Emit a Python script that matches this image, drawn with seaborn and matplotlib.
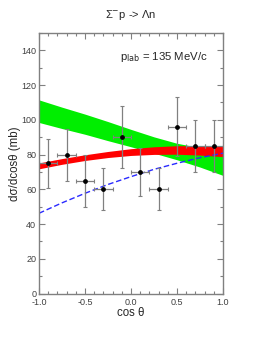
import numpy as np
import pandas as pd
import matplotlib
matplotlib.use("Agg")
import matplotlib.pyplot as plt
from matplotlib.ticker import MultipleLocator
import seaborn as sns

# datos experimentales
cos_pts = [-0.9, -0.7, -0.5, -0.3, -0.1, 0.1, 0.3, 0.5, 0.7, 0.9]
dsig = [75, 80, 65, 60, 90, 70, 60, 96, 85, 85]
dsig_err = [14, 15, 15, 12, 18, 14, 12, 17, 15, 15]
cos_err = [0.1] * 10

# curvas teoricas
cos_grid = [-1.0, -0.75, -0.5, -0.25, 0.0, 0.25, 0.5, 0.75, 1.0]
green_lo = [98.5, 95.0, 91.7, 88.0, 84.5, 80.8, 77.0, 72.8, 68.0]
green_hi = [111.5, 107.3, 103.3, 99.0, 94.5, 90.2, 86.5, 84.0, 82.0]
red_lo = [71.8, 74.4, 76.6, 78.3, 79.5, 80.1, 80.2, 79.7, 78.8]
red_hi = [75.2, 77.7, 79.9, 81.8, 83.4, 84.5, 85.1, 85.1, 84.7]
blue = [46.2, 52.2, 57.7, 62.8, 67.3, 71.5, 75.0, 78.2, 80.8]
xtick_labels = ['-1.0', '-0.5', '0.0', '0.5', '1.0']

sns.set_style("ticks")
plt.rcParams['font.family'] = ['Liberation Sans', 'DejaVu Sans']

fig = plt.figure(figsize=(2.7, 3.49), dpi=100)
ax = fig.add_axes([0.1444, 0.159, 0.6816, 0.7464])

ax.fill_between(cos_grid, green_lo, green_hi, color='#00ee00', lw=0)
ax.fill_between(cos_grid, red_lo, red_hi, color='#ff0000', lw=0)

df_blue = pd.DataFrame({'x': cos_grid, 'y': blue})
sns.lineplot(data=df_blue, x='x', y='y', ax=ax, color='#2a2aff', lw=1.0,
             linestyle=(0, (4, 2)))

ax.errorbar(cos_pts, dsig, yerr=dsig_err, xerr=cos_err, fmt='none',
            ecolor='#808080', elinewidth=0.9, capsize=1.5, capthick=0.8)
df_pts = pd.DataFrame({'x': cos_pts, 'y': dsig})
sns.scatterplot(data=df_pts, x='x', y='y', ax=ax, color='black', s=12,
                edgecolor='black', linewidth=0, zorder=5)

ax.set_xlim(-1, 1)
ax.set_ylim(0, 150)
ax.set_xticks([-1.0, -0.5, 0.0, 0.5, 1.0], xtick_labels)
ax.set_yticks(np.arange(0, 141, 20))
ax.xaxis.set_minor_locator(MultipleLocator(0.1))
ax.yaxis.set_minor_locator(MultipleLocator(10))
ax.tick_params(which='both', direction='in', top=True, right=True,
               color='#808080', labelcolor='#404040', labelsize=6.5)
ax.tick_params(axis='x', pad=3)
ax.tick_params(axis='y', pad=2)
ax.tick_params(which='major', length=4, width=0.8)
ax.tick_params(which='minor', length=2, width=0.8)
for sp in ax.spines.values():
    sp.set_color('#808080')
    sp.set_linewidth(1.0)

ax.set_xlabel('cos θ', fontsize=8.3, labelpad=0)
ax.set_ylabel('dσ/dcosθ (mb)', fontsize=8.3, labelpad=0)
ax.set_title('Σ$^{-}$p -> Λn', fontsize=8, pad=11)
ax.text(-0.12, 136, 'p$_{\\rm lab}$ = 135 MeV/c', fontsize=8.2, va='center')

fig.savefig('out.png', dpi=100)
